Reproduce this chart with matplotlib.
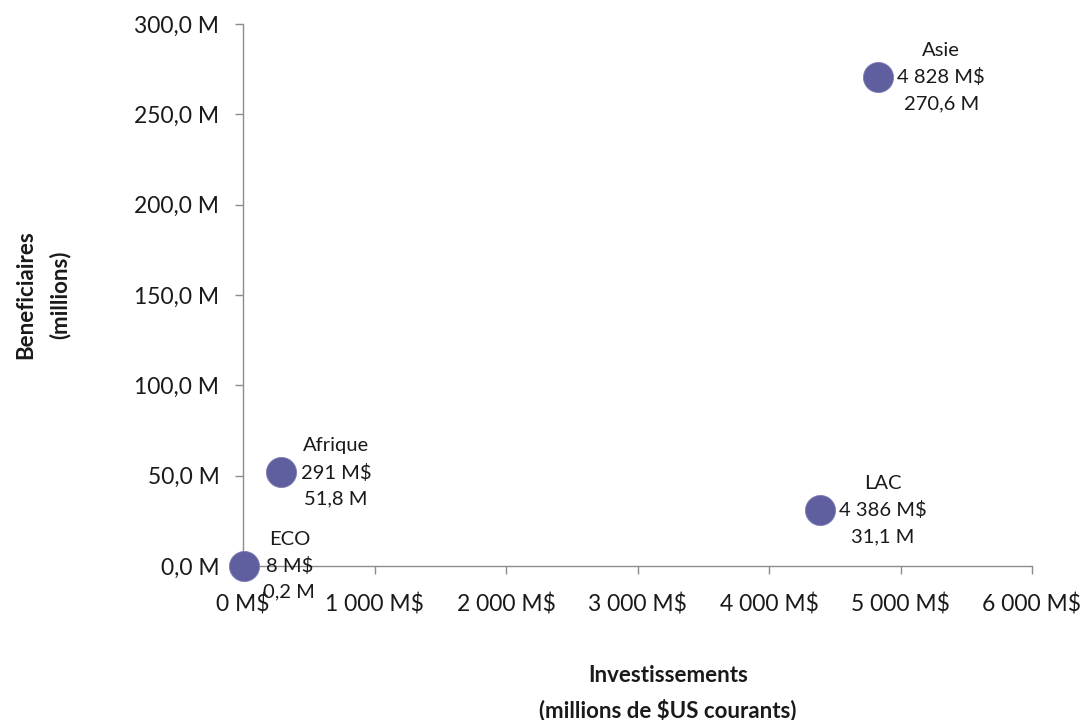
import matplotlib
matplotlib.use("Agg")
import matplotlib.pyplot as plt
from matplotlib.ticker import FuncFormatter

# Regional data: investment (millions of current US$) vs beneficiaries (millions)
regions = ["Asie", "LAC", "Afrique", "ECO"]
investissements = [4828, 4386, 291, 8]
beneficiaires = [270.6, 31.1, 51.8, 0.2]

x_ticks = [0, 1000, 2000, 3000, 4000, 5000, 6000]
y_ticks = [0, 50, 100, 150, 200, 250, 300]

FONT = ["Lato", "DejaVu Sans"]
plt.rcParams["font.family"] = FONT


def fr_thousands(v):
    return f"{int(round(v)):,}".replace(",", " ")


def fr_decimal(v):
    return f"{v:.1f}".replace(".", ",")


fig = plt.figure(figsize=(10.83, 7.2), dpi=100)
ax = fig.add_axes([243 / 1083, 1 - 566 / 720, (1032 - 243) / 1083, (566 - 24) / 720])

marker_color = "#5F5F9F"
ax.scatter(investissements, beneficiaires, s=470, color=marker_color,
           edgecolors="#7C7CB4", linewidths=0.6, zorder=3, clip_on=False)

for name, xv, yv in zip(regions, investissements, beneficiaires):
    label = f"{name}\n{fr_thousands(xv)} M$\n{fr_decimal(yv)} M"
    ax.annotate(label, (xv, yv), xytext=(14, 0), textcoords="offset points",
                ha="left", va="center", ma="center", fontsize=14.5,
                linespacing=1.63, color="#1a1a1a", zorder=4)

ax.set_xlim(0, 6000)
ax.set_ylim(0, 300)
ax.set_xticks(x_ticks)
ax.set_yticks(y_ticks)
ax.xaxis.set_major_formatter(FuncFormatter(lambda v, p: f"{fr_thousands(v)} M$"))
ax.yaxis.set_major_formatter(FuncFormatter(lambda v, p: f"{fr_decimal(v)} M"))

for side in ("top", "right"):
    ax.spines[side].set_visible(False)
for side in ("left", "bottom"):
    ax.spines[side].set_color("#8C8C8C")
    ax.spines[side].set_linewidth(1.0)

ax.tick_params(axis="both", direction="out", length=6, width=1.0, color="#8C8C8C",
               labelsize=16.5, labelcolor="#1a1a1a")
ax.tick_params(axis="y", pad=11)
ax.tick_params(axis="x", pad=14)

fig.text(668 / 1083, 1 - 693 / 720, "Investissements\n(millions de $US courants)",
         ha="center", va="center", fontsize=16, fontweight="bold",
         linespacing=1.7, color="#1a1a1a")
fig.text(43 / 1083, 1 - 295 / 720, "Beneficiaires\n(millions)",
         ha="center", va="center", rotation=90, fontsize=16, fontweight="bold",
         linespacing=1.7, color="#1a1a1a")

fig.savefig("out.png", dpi=100, facecolor="white")
